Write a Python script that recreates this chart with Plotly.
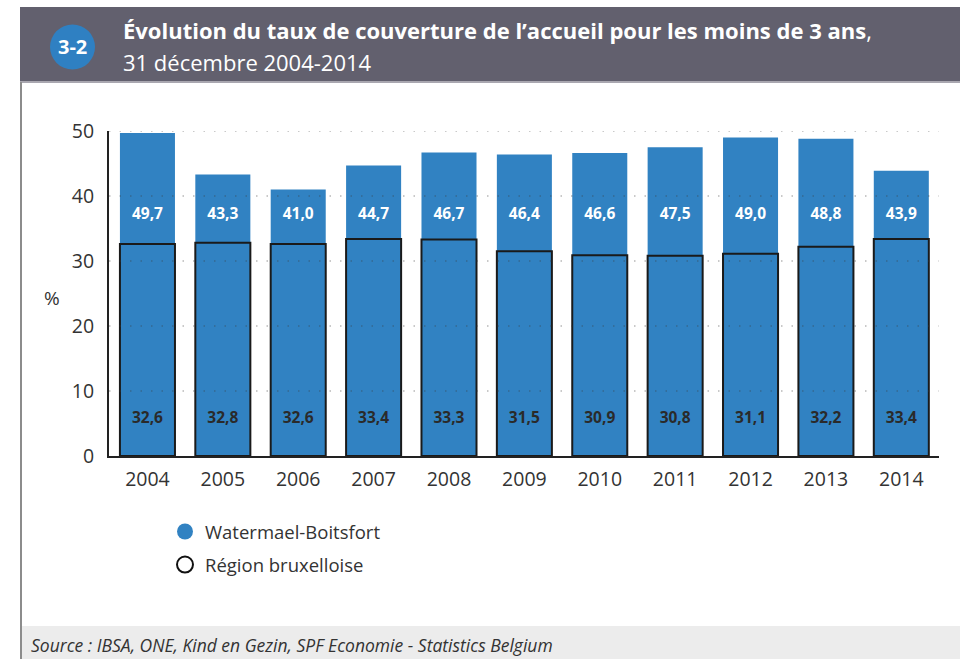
import plotly.graph_objects as go

# ---- data ----
years = ["2004", "2005", "2006", "2007", "2008", "2009", "2010", "2011", "2012", "2013", "2014"]
watermael = [49.7, 43.3, 41.0, 44.7, 46.7, 46.4, 46.6, 47.5, 49.0, 48.8, 43.9]
region = [32.6, 32.8, 32.6, 33.4, 33.3, 31.5, 30.9, 30.8, 31.1, 32.2, 33.4]
y_ticks = [0, 10, 20, 30, 40, 50]
series_names = ["Watermael-Boitsfort", "Région bruxelloise"]

# ---- layout geometry (pixels) ----
W, H = 960, 659
L, R, T, B = 109, 939, 131, 456


def px(x):
    return (x - L) / (R - L)


def py(y):
    return (B - y) / (B - T)


BLUE = "#3182c2"
DARK = "#2a2a2a"
FONT = "Open Sans"

fmt = lambda v: f"{v:.1f}".replace(".", ",")

fig = go.Figure()

fig.add_trace(go.Bar(x=years, y=watermael, name=series_names[0], marker=dict(color=BLUE, line=dict(width=0)),
                     width=0.73, showlegend=False, hoverinfo="x+y"))
fig.add_trace(go.Bar(x=years, y=region, name=series_names[1],
                     marker=dict(color=BLUE, line=dict(color="#1a1a1a", width=2)),
                     width=0.73, showlegend=False, hoverinfo="x+y"))

# value labels at fixed heights inside bars
fig.add_trace(go.Scatter(x=years, y=[37.1] * len(years), mode="text", text=[fmt(v) for v in watermael],
                         textfont=dict(family=FONT, size=15.5, color="white", weight="bold"),
                         showlegend=False, hoverinfo="skip"))
fig.add_trace(go.Scatter(x=years, y=[5.7] * len(years), mode="text", text=[fmt(v) for v in region],
                         textfont=dict(family=FONT, size=15.5, color=DARK, weight="bold"),
                         showlegend=False, hoverinfo="skip"))

# legend entries (one legend box each, for exact spacing)
fig.add_trace(go.Scatter(x=[None], y=[None], mode="markers", name=series_names[0], legend="legend",
                         marker=dict(symbol="circle", size=20, color=BLUE, line=dict(width=0))))
fig.add_trace(go.Scatter(x=[None], y=[None], mode="markers", name=series_names[1], legend="legend2",
                         marker=dict(symbol="circle", size=19, color="white", line=dict(color="#111", width=2))))

shapes = []
# dotted gridlines drawn above bars
for t in y_ticks[1:]:
    shapes.append(dict(type="line", xref="paper", yref="y", x0=0, x1=1, y0=t, y1=t, layer="above",
                       line=dict(color="rgba(60,60,60,0.55)", width=1.2, dash="1.5px,9px")))
# header band
shapes.append(dict(type="rect", xref="paper", yref="paper", x0=px(20), x1=px(960), y0=py(82), y1=py(7),
                   fillcolor="#62606e", line=dict(width=0), layer="below"))
shapes.append(dict(type="line", xref="paper", yref="paper", x0=px(20), x1=px(960), y0=py(82), y1=py(82),
                   line=dict(color="#a9a7b0", width=2)))
# badge circle
shapes.append(dict(type="circle", xref="paper", yref="paper", x0=px(50), x1=px(95), y0=py(69.5), y1=py(24.5),
                   fillcolor="#2f80c2", line=dict(width=0)))
# left frame line
shapes.append(dict(type="line", xref="paper", yref="paper", x0=px(21), x1=px(21), y0=py(82), y1=py(659),
                   line=dict(color="#8c8c8c", width=2)))
# footer band
shapes.append(dict(type="rect", xref="paper", yref="paper", x0=px(22), x1=px(960), y0=py(659), y1=py(626),
                   fillcolor="#ececec", line=dict(width=0), layer="below"))

annotations = [
    dict(text="3-2", x=px(72.5), y=py(46), xref="paper", yref="paper", showarrow=False,
         font=dict(family=FONT, size=20, color="white", weight="bold"), xanchor="center", yanchor="middle"),
    dict(text="<b>Évolution du taux de couverture de l’accueil pour les moins de 3 ans</b>,",
         x=px(121), y=py(30), xref="paper", yref="paper", showarrow=False, xanchor="left", yanchor="middle",
         font=dict(family=FONT, size=22, color="white")),
    dict(text="31 décembre 2004-2014", x=px(121), y=py(62), xref="paper", yref="paper", showarrow=False,
         xanchor="left", yanchor="middle", font=dict(family=FONT, size=22, color="white")),
    dict(text="%", x=px(52), y=py(298), xref="paper", yref="paper", showarrow=False,
         xanchor="center", yanchor="middle", font=dict(family=FONT, size=19, color="#333")),
    dict(text="<i>Source : IBSA, ONE, Kind en Gezin, SPF Economie - Statistics Belgium</i>",
         x=px(29), y=py(645), xref="paper", yref="paper", showarrow=False, xanchor="left", yanchor="middle",
         font=dict(family=FONT, size=17.5, color="#333")),
]

legend_common = dict(xanchor="left", yanchor="top", orientation="v",
                     font=dict(family=FONT, size=18.5, color="#333"), bgcolor="rgba(0,0,0,0)",
                     itemsizing="trace")

fig.update_layout(
    width=W, height=H,
    margin=dict(l=L, r=W - R, t=T, b=H - B),
    paper_bgcolor="white", plot_bgcolor="white",
    barmode="overlay", bargap=0.27,
    font=dict(family=FONT, color="#333"),
    shapes=shapes, annotations=annotations,
    legend=dict(x=px(165), y=py(513), **legend_common),
    legend2=dict(x=px(165), y=py(546), **legend_common),
    xaxis=dict(range=[-0.51, 10.5], showgrid=False, showline=True, linecolor="#222", linewidth=2,
               ticks="", tickfont=dict(family=FONT, size=19.5, color="#333"), ticklabelstandoff=5,
               zeroline=False, fixedrange=True),
    yaxis=dict(range=[0, 50], tickvals=y_ticks, showgrid=False, showline=True, linecolor="#222", linewidth=2,
               ticks="", tickfont=dict(family=FONT, size=19.5, color="#333"), ticklabelstandoff=9,
               zeroline=False, fixedrange=True),
    hovermode=False,
)

fig.write_html("out.html", config={"displayModeBar": False},
               post_script="document.body.style.margin='0';document.body.style.overflow='hidden';")
